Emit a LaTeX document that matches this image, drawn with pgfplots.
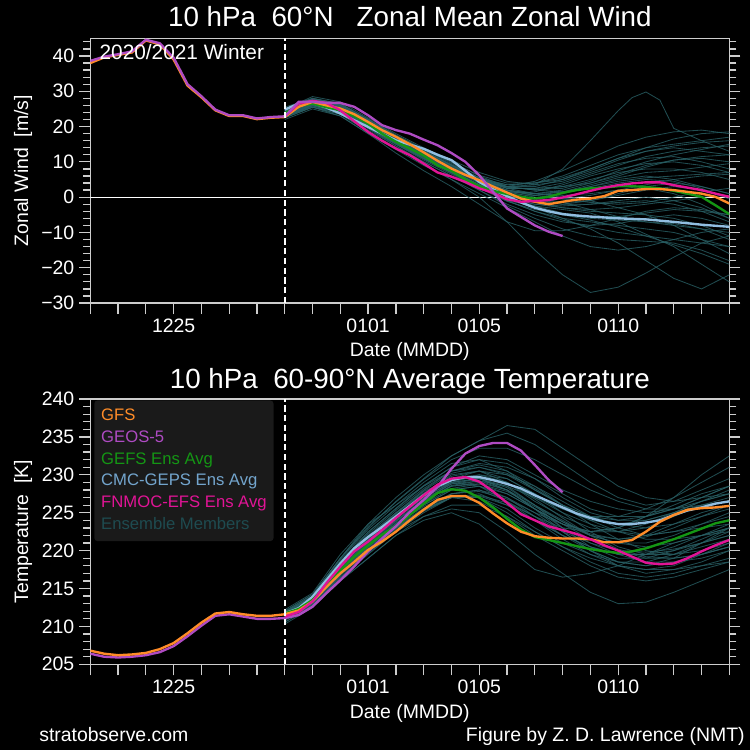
\documentclass[border=0pt]{standalone}
\usepackage{fontspec}
\setmainfont{Liberation Sans}
\usepackage{pgfplots}
\pgfplotsset{compat=1.18}
\definecolor{axgray}{RGB}{205,205,205}
\definecolor{gfs}{RGB}{255,140,40}
\definecolor{geos}{RGB}{175,75,195}
\definecolor{gefs}{RGB}{20,150,20}
\definecolor{cmc}{RGB}{145,190,225}
\definecolor{cmcleg}{RGB}{115,165,205}
\definecolor{fnmoc}{RGB}{225,20,150}
\definecolor{memc}{RGB}{40,95,100}
\definecolor{memleg}{RGB}{30,75,80}
\definecolor{leg}{RGB}{26,26,26}
\pgfplotsset{
 chart/.style={
  scale only axis, anchor=south west, width=460.1pt,
  xmin=0, xmax=23,
  axis line style={draw=axgray, line width=0.9pt},
  every tick/.style={draw=axgray, line width=0.9pt},
  tick align=outside,
  major tick length=8pt, minor tick length=5pt,
  xtick={0,...,23}, xticklabels={},
  extra x ticks={3,10,14,19}, extra x tick labels={1225,0101,0105,0110},
  xtick pos=left, ytick pos=both, yticklabel pos=left,
  ticklabel style={font=\fontsize{14}{16}\selectfont, text=white},
  every axis y label/.style={at={(axis description cs:-0.105,0.5)}, rotate=90, anchor=center, font=\fontsize{14}{16}\selectfont, text=white},
  every axis x label/.style={at={(axis description cs:0.5,-0.2025)}, anchor=base, font=\fontsize{14}{16}\selectfont, text=white},
  xlabel={Date (MMDD)},
 },
 mem/.style={color=memc, line width=0.6pt, opacity=0.8, forget plot},
 main/.style={line width=1.7pt, forget plot},
}
\begin{document}
\begin{tikzpicture}
\fill[black] (0,0) rectangle (540pt,540pt);
% ---------------- top panel: zonal wind ----------------
\begin{axis}[chart, at={(65pt,321.8pt)}, height=190.6pt,
  ymin=-30, ymax=45,
  ytick={-30,-20,-10,0,10,20,30,40},
  yticklabels={−30,−20,−10,0,10,20,30,40},
  minor ytick={-28,-26,...,44},
  ylabel={Zonal Wind\ \ [m/s]}]
\addplot[white, line width=0.8pt, forget plot] coordinates {(0,0) (23,0)};
% ensemble members
\addplot[mem] coordinates {(7,24.0)(8,27.5)(9,26.0)(10,21.5)(11,17.0)(12,13.0)(13,9.0)(14,5.0)(15,2.0)(16,0.5)(17,1.0)(18,3.0)(19,5.0)(20,6.0)(21,5.0)(22,3.0)(23,1.0)};
\addplot[mem] coordinates {(7,23.0)(8,26.0)(9,24.0)(10,19.5)(11,15.0)(12,11.0)(13,7.0)(14,3.0)(15,-1.0)(16,-4.0)(17,-6.0)(18,-7.0)(19,-8.0)(20,-9.0)(21,-10.0)(22,-12.0)(23,-14.0)};
\addplot[mem] coordinates {(7,25.0)(8,28.5)(9,27.0)(10,22.5)(11,18.0)(12,14.0)(13,10.5)(14,7.0)(15,4.5)(16,3.5)(17,4.5)(18,7.0)(19,9.5)(20,11.0)(21,11.5)(22,10.0)(23,8.0)};
\addplot[mem] coordinates {(7,22.5)(8,25.5)(9,23.5)(10,19.0)(11,14.5)(12,10.0)(13,6.0)(14,2.0)(15,-2.0)(16,-5.0)(17,-7.0)(18,-8.0)(19,-7.5)(20,-6.0)(21,-5.0)(22,-6.0)(23,-8.0)};
\addplot[mem] coordinates {(7,24.5)(8,27.0)(9,25.5)(10,21.0)(11,16.5)(12,12.5)(13,8.5)(14,4.0)(15,0.0)(16,-2.0)(17,-2.5)(18,-2.0)(19,-1.0)(20,0.0)(21,-1.0)(22,-3.0)(23,-6.0)};
\addplot[mem] coordinates {(7,23.5)(8,26.5)(9,25.0)(10,20.5)(11,16.0)(12,12.0)(13,8.0)(14,5.0)(15,3.0)(16,3.0)(17,5.0)(18,8.0)(19,11.0)(20,13.0)(21,14.0)(22,13.0)(23,12.0)};
\addplot[mem] coordinates {(7,22.0)(8,25.0)(9,23.0)(10,18.0)(11,13.5)(12,9.0)(13,5.0)(14,1.0)(15,-3.0)(16,-7.0)(17,-11.0)(18,-14.0)(19,-15.0)(20,-14.0)(21,-12.0)(22,-10.0)(23,-9.0)};
\addplot[mem] coordinates {(7,24.0)(8,27.0)(9,26.0)(10,21.0)(11,16.0)(12,12.0)(13,8.0)(14,4.5)(15,2.0)(16,1.0)(17,0.0)(18,-1.0)(19,-3.0)(20,-5.0)(21,-8.0)(22,-12.0)(23,-16.0)};
\addplot[mem] coordinates {(7,25.5)(8,28.0)(9,26.5)(10,22.0)(11,17.5)(12,13.5)(13,10.0)(14,6.0)(15,3.0)(16,2.0)(17,3.0)(18,5.0)(19,7.0)(20,8.0)(21,8.0)(22,7.0)(23,5.0)};
\addplot[mem] coordinates {(7,23.0)(8,26.0)(9,24.5)(10,20.0)(11,15.0)(12,10.5)(13,6.5)(14,2.5)(15,-0.5)(16,-2.0)(17,-3.0)(18,-3.5)(19,-3.0)(20,-2.0)(21,-1.0)(22,0.0)(23,0.5)};
\addplot[mem] coordinates {(7,24.5)(8,27.5)(9,26.0)(10,22.0)(11,17.0)(12,13.0)(13,9.0)(14,5.5)(15,3.5)(16,4.0)(17,6.0)(18,9.0)(19,12.0)(20,14.0)(21,15.0)(22,16.0)(23,17.0)};
\addplot[mem] coordinates {(7,22.5)(8,25.5)(9,24.0)(10,19.5)(11,15.5)(12,11.0)(13,7.0)(14,3.0)(15,-1.0)(16,-4.0)(17,-6.5)(18,-8.5)(19,-10.0)(20,-11.0)(21,-12.0)(22,-13.0)(23,-14.0)};
\addplot[mem] coordinates {(7,24.0)(8,27.0)(9,25.0)(10,20.5)(11,16.0)(12,11.5)(13,7.5)(14,4.5)(15,3.0)(16,3.5)(17,8.0)(18,16.0)(19,24.5)(19.5,28.2)(20,29.8)(20.5,27.5)(21,19.5)(22,16.0)(23,13.0)};
\addplot[mem] coordinates {(7,22.5)(8,25.5)(9,23.5)(10,18.5)(11,14.0)(12,9.5)(13,5.0)(14,0.0)(15,-7.0)(16,-15.0)(17,-22.0)(18,-27.0)(19,-25.5)(20,-21.5)(21,-17.0)(22,-13.0)(23,-11.0)};
\addplot[mem] coordinates {(7,23.5)(8,26.0)(9,24.5)(10,20.0)(11,15.5)(12,11.5)(13,7.5)(14,3.5)(15,0.0)(16,-3.0)(17,-6.0)(18,-9.0)(19,-13.0)(20,-18.0)(21,-23.0)(22,-26.0)(23,-22.0)};
\addplot[mem] coordinates {(7,24.0)(8,26.5)(9,25.0)(10,20.0)(11,15.5)(12,11.5)(13,7.0)(14,3.0)(15,-1.0)(16,-2.5)(17,-3.5)(18,-4.5)(19,-7.0)(20,-10.5)(21,-14.0)(22,-19.0)(23,-24.0)};
\addplot[mem] coordinates {(7,24.5)(8,27.0)(9,25.5)(10,21.0)(11,16.5)(12,12.5)(13,8.5)(14,5.0)(15,3.5)(16,4.0)(17,5.5)(18,8.0)(19,11.0)(20,14.0)(21,16.5)(22,18.0)(23,18.5)};
\addplot[mem] coordinates {(7,23.5)(8,26.5)(9,25.0)(10,20.5)(11,15.5)(12,11.5)(13,7.5)(14,3.5)(15,0.5)(16,-1.0)(17,-1.5)(18,-1.0)(19,0.5)(20,2.0)(21,3.0)(22,2.0)(23,0.0)};
\addplot[mem] coordinates {(7,24.0)(8,27.0)(9,25.5)(10,21.0)(11,16.5)(12,12.5)(13,8.5)(14,4.5)(15,1.5)(16,0.0)(17,-1.5)(18,-3.5)(19,-5.5)(20,-7.0)(21,-8.0)(22,-9.0)(23,-10.0)};
\addplot[mem] coordinates {(7,23.0)(8,26.0)(9,24.0)(10,19.5)(11,15.0)(12,11.0)(13,7.0)(14,3.5)(15,1.0)(16,1.5)(17,3.5)(18,6.0)(19,8.0)(20,9.5)(21,10.0)(22,9.0)(23,7.0)};
\addplot[mem] coordinates {(7,25.0)(8,28.0)(9,26.5)(10,22.0)(11,17.5)(12,13.5)(13,9.5)(14,5.5)(15,2.5)(16,1.0)(17,0.5)(18,1.0)(19,2.0)(20,2.5)(21,1.0)(22,-2.0)(23,-6.0)};
\addplot[mem] coordinates {(7,22.8)(8,25.8)(9,24.0)(10,19.5)(11,14.5)(12,10.0)(13,6.0)(14,2.0)(15,-2.5)(16,-6.0)(17,-9.0)(18,-11.0)(19,-12.0)(20,-12.5)(21,-13.0)(22,-15.0)(23,-18.0)};
\addplot[mem] coordinates {(7,24.2)(8,27.2)(9,25.8)(10,21.5)(11,17.0)(12,13.0)(13,9.0)(14,5.0)(15,2.5)(16,2.5)(17,4.0)(18,6.5)(19,9.0)(20,11.5)(21,13.0)(22,14.0)(23,14.5)};
\addplot[mem] coordinates {(7,23.8)(8,26.8)(9,25.2)(10,20.8)(11,16.2)(12,12.2)(13,8.2)(14,4.2)(15,1.0)(16,-1.0)(17,-2.0)(18,-2.0)(19,-1.5)(20,-1.0)(21,-2.0)(22,-4.0)(23,-7.0)};
\addplot[mem] coordinates {(7,23.2)(8,26.2)(9,24.5)(10,20.0)(11,15.5)(12,11.0)(13,7.0)(14,3.0)(15,0.0)(16,-2.5)(17,-4.5)(18,-5.5)(19,-5.5)(20,-4.5)(21,-3.5)(22,-4.0)(23,-5.0)};
\addplot[mem] coordinates {(7,24.8)(8,27.8)(9,26.2)(10,21.8)(11,17.2)(12,13.2)(13,9.2)(14,5.5)(15,3.0)(16,2.0)(17,1.5)(18,2.5)(19,4.0)(20,5.0)(21,4.5)(22,2.5)(23,-0.5)};
\addplot[mem] coordinates {(7,23.6)(8,26.4)(9,24.8)(10,20.2)(11,15.6)(12,11.6)(13,7.6)(14,3.6)(15,0.5)(16,-1.5)(17,-3.0)(18,-4.0)(19,-4.5)(20,-5.0)(21,-6.0)(22,-8.0)(23,-11.0)};
\addplot[mem] coordinates {(7,24.4)(8,27.4)(9,25.6)(10,21.2)(11,16.8)(12,12.8)(13,8.8)(14,4.8)(15,2.0)(16,1.0)(17,1.5)(18,3.0)(19,4.5)(20,5.5)(21,6.0)(22,6.5)(23,7.0)};
\addplot[mem] coordinates {(7,23.4)(8,26.2)(9,24.6)(10,20.4)(11,15.8)(12,11.8)(13,7.8)(14,3.2)(15,-0.5)(16,-3.0)(17,-5.0)(18,-6.0)(19,-6.5)(20,-7.0)(21,-7.5)(22,-9.0)(23,-12.0)};
\addplot[mem] coordinates {(7,24.6)(8,27.6)(9,26.0)(10,21.6)(11,16.6)(12,12.6)(13,8.6)(14,4.8)(15,2.5)(16,2.5)(17,3.0)(18,4.0)(19,6.0)(20,8.5)(21,10.5)(22,11.5)(23,12.0)};
\addplot[mem] coordinates {(7,23.0)(8,25.5)(9,23.0)(10,18.0)(11,12.5)(12,7.5)(13,3.0)(14,-2.0)(15,-7.0)(16,-9.5)(17,-9.5)(18,-8.0)(19,-6.0)(20,-4.0)(21,-3.0)(22,-3.5)(23,-5.0)};
\addplot[mem] coordinates {(7,24.2)(8,27.0)(9,25.4)(10,21.2)(11,16.5)(12,12.0)(13,8.0)(14,4.5)(15,3.0)(16,4.5)(17,7.5)(18,11.0)(19,14.5)(20,17.0)(21,18.5)(22,19.0)(23,18.0)};
\addplot[mem] coordinates {(7,23.8)(8,26.6)(9,25.0)(10,20.6)(11,16.0)(12,11.8)(13,7.8)(14,4.0)(15,1.5)(16,1.0)(17,2.0)(18,4.0)(19,6.5)(20,9.0)(21,10.5)(22,11.0)(23,10.0)};
\addplot[mem] coordinates {(7,24.3)(8,27.2)(9,25.6)(10,21.0)(11,16.4)(12,12.3)(13,8.3)(14,4.3)(15,1.0)(16,-0.5)(17,-0.5)(18,0.5)(19,2.0)(20,3.5)(21,5.0)(22,6.0)(23,6.5)};
\addplot[mem] coordinates {(7,23.1)(8,25.9)(9,24.2)(10,19.8)(11,15.3)(12,11.2)(13,7.2)(14,3.3)(15,0.2)(16,-1.5)(17,-2.0)(18,-1.0)(19,1.0)(20,3.0)(21,4.0)(22,3.0)(23,1.0)};
\addplot[mem] coordinates {(7,24.7)(8,27.5)(9,26.1)(10,21.9)(11,17.3)(12,13.1)(13,9.1)(14,5.2)(15,2.8)(16,2.2)(17,2.5)(18,4.5)(19,7.5)(20,10.0)(21,12.0)(22,13.5)(23,15.0)};
\addplot[mem] coordinates {(7,23.3)(8,26.1)(9,24.4)(10,19.7)(11,15.2)(12,10.8)(13,6.8)(14,2.6)(15,-1.2)(16,-3.5)(17,-5.0)(18,-6.5)(19,-8.5)(20,-11.0)(21,-13.5)(22,-16.0)(23,-19.0)};
\addplot[mem] coordinates {(7,24.1)(8,26.9)(9,25.3)(10,20.9)(11,16.3)(12,12.1)(13,8.1)(14,4.4)(15,1.8)(16,0.5)(17,-0.5)(18,-1.5)(19,-2.0)(20,-1.5)(21,0.0)(22,1.5)(23,2.5)};
\addplot[mem] coordinates {(7,23.7)(8,26.7)(9,25.0)(10,20.3)(11,15.7)(12,11.5)(13,7.4)(14,3.4)(15,0.8)(16,0.5)(17,1.5)(18,3.5)(19,5.5)(20,7.0)(21,7.5)(22,8.5)(23,9.5)};
\addplot[mem] coordinates {(7,24.9)(8,27.9)(9,26.4)(10,22.2)(11,17.6)(12,13.6)(13,9.8)(14,6.2)(15,4.0)(16,4.0)(17,5.0)(18,7.5)(19,10.5)(20,13.0)(21,14.5)(22,15.5)(23,16.0)};
% CMC-GEPS
\addplot[main, cmc] coordinates {(7,24.8)(7.5,26.5)(8,26.7)(8.5,25.4)(9,23.7)(9.5,21.8)(10,19.9)(10.5,18.0)(11,16.1)(11.5,14.9)(12,13.7)(12.5,12.0)(13,10.5)(13.5,7.5)(14,4.3)(14.5,2.2)(15,0.3)(15.5,-1.5)(16,-3.0)(16.5,-4.0)(17,-4.8)(17.5,-5.2)(18,-5.5)(19,-6.0)(20,-6.3)(21,-7.0)(22,-7.8)(23,-8.4)};
% GEFS
\addplot[main, gefs] coordinates {(7,23.8)(7.5,25.8)(8,26.5)(8.5,25.5)(9,24.6)(9.5,23.0)(10,20.8)(10.5,18.0)(11,15.7)(11.5,13.8)(12,11.8)(12.5,9.0)(13,7.5)(13.5,5.0)(14,3.1)(14.5,1.8)(15,0.9)(15.5,0.1)(16,-0.4)(16.5,0.1)(17,1.2)(17.5,2.0)(18,2.5)(18.5,2.7)(19,3.1)(19.5,3.1)(20,2.9)(20.5,2.5)(21,1.8)(21.5,1.0)(22,0.1)(22.5,-2.3)(23,-4.8)};
% GFS
\addplot[main, gfs] coordinates {(0,38.0)(0.5,39.6)(1,40.3)(1.5,41.0)(2,44.4)(2.5,43.3)(3,39.0)(3.5,31.6)(4,28.3)(4.5,24.6)(5,23.0)(5.5,23.0)(6,22.1)(6.5,22.5)(7,22.7)(7.5,25.6)(8,27.0)(8.5,26.0)(9,25.1)(9.5,23.5)(10,21.3)(10.5,19.0)(11,17.1)(11.5,15.0)(12,12.7)(12.5,10.3)(13,8.1)(13.5,6.3)(14,4.8)(14.5,3.0)(15,1.3)(15.5,-0.4)(16,-1.3)(16.5,-2.0)(17,-1.3)(17.5,-0.7)(18,-0.4)(18.5,0.3)(19,1.8)(19.5,2.0)(20,2.3)(20.5,2.3)(21,2.0)(21.5,1.5)(22,1.0)(22.5,0.1)(23,-1.8)};
% FNMOC
\addplot[main, fnmoc] coordinates {(7,22.9)(7.5,26.5)(8,27.3)(8.5,26.7)(9,24.6)(9.5,21.5)(10,18.5)(10.5,16.0)(11,13.8)(11.5,11.9)(12,9.5)(12.5,7.0)(13,5.8)(13.5,4.3)(14,2.5)(14.5,1.2)(15,-0.6)(15.5,-1.3)(16,-1.1)(16.5,-0.8)(17,-0.1)(17.5,0.8)(18,1.8)(18.5,2.7)(19,3.4)(19.5,3.9)(20,4.2)(20.5,4.2)(21,3.4)(21.5,2.7)(22,2.0)(22.5,1.0)(23,0.1)};
% GEOS-5
\addplot[main, geos] coordinates {(0,38.6)(0.5,39.8)(1,40.5)(1.5,41.3)(2,44.6)(2.5,43.6)(3,39.5)(3.5,32.0)(4,28.6)(4.5,24.8)(5,23.2)(5.5,23.2)(6,22.3)(6.5,22.7)(7,22.9)(7.5,27.0)(8,27.0)(8.5,26.7)(9,26.7)(9.5,25.6)(10,23.2)(10.5,20.4)(11,19.0)(11.5,18.0)(12,16.3)(12.5,14.7)(13,12.5)(13.5,10.0)(14,6.2)(14.5,1.5)(15,-3.2)(15.5,-5.6)(16,-8.0)(16.5,-9.8)(17,-11.0)};
\addplot[white, line width=1.2pt, dash pattern=on 4.5pt off 2.5pt, forget plot] coordinates {(7,-30) (7,45)};
\end{axis}
% ---------------- bottom panel: temperature ----------------
\begin{axis}[chart, at={(65pt,61.7pt)}, height=191pt,
  ymin=205, ymax=240,
  ytick={205,210,...,240},
  yticklabels={205,210,215,220,225,230,235,240},
  minor ytick={206,...,239},
  ylabel={Temperature\ \ [K]},
  legend style={at={(axis description cs:0.0058,0.996)}, anchor=north west, fill=leg, draw=none, rounded corners=2.5pt, font=\fontsize{12}{14}\selectfont, inner xsep=5pt, inner ysep=6pt, row sep=4.2pt, nodes={inner sep=0pt, text height=8.8pt, text depth=2.6pt}},
  legend cell align=left]
\addplot[mem] coordinates {(7,211.8)(8,213.8)(9,218.5)(10,222.5)(11,225.5)(12,228.5)(13,231.0)(14,232.5)(15,232.0)(16,230.0)(17,228.0)(18,226.5)(19,225.5)(20,225.0)(21,225.5)(22,226.5)(23,227.5)};
\addplot[mem] coordinates {(7,211.2)(8,212.8)(9,216.5)(10,219.5)(11,222.5)(12,225.0)(13,227.0)(14,227.5)(15,226.0)(16,224.0)(17,222.0)(18,220.5)(19,219.5)(20,219.5)(21,220.0)(22,221.0)(23,222.0)};
\addplot[mem] coordinates {(7,212.0)(8,214.2)(9,219.0)(10,223.0)(11,226.5)(12,229.5)(13,232.5)(14,234.5)(15,235.5)(16,234.0)(17,231.5)(18,229.0)(19,227.0)(20,226.0)(21,226.5)(22,228.0)(23,229.5)};
\addplot[mem] coordinates {(7,210.6)(8,212.5)(9,216.0)(10,219.0)(11,222.0)(12,224.5)(13,226.0)(14,226.0)(15,224.5)(16,222.5)(17,220.5)(18,218.5)(19,217.0)(20,216.5)(21,217.0)(22,218.0)(23,219.0)};
\addplot[mem] coordinates {(7,211.5)(8,213.5)(9,218.0)(10,221.5)(11,224.5)(12,227.5)(13,230.0)(14,230.5)(15,229.0)(16,226.5)(17,224.5)(18,223.0)(19,222.5)(20,223.0)(21,224.5)(22,226.0)(23,227.0)};
\addplot[mem] coordinates {(7,211.6)(8,213.2)(9,217.0)(10,220.5)(11,223.5)(12,226.5)(13,229.0)(14,230.0)(15,229.5)(16,227.5)(17,225.0)(18,222.5)(19,220.5)(20,219.5)(21,219.5)(22,220.5)(23,221.5)};
\addplot[mem] coordinates {(7,210.8)(8,212.6)(9,216.8)(10,220.0)(11,223.0)(12,225.5)(13,227.5)(14,228.0)(15,226.5)(16,224.0)(17,221.5)(18,219.5)(19,218.0)(20,217.5)(21,218.0)(22,219.5)(23,221.0)};
\addplot[mem] coordinates {(7,212.2)(8,214.4)(9,219.5)(10,223.5)(11,226.0)(12,228.5)(13,230.5)(14,231.0)(15,230.0)(16,228.0)(17,226.0)(18,224.5)(19,224.0)(20,224.5)(21,225.5)(22,227.0)(23,228.5)};
\addplot[mem] coordinates {(7,211.4)(8,213.0)(9,217.2)(10,220.5)(11,223.5)(12,226.0)(13,228.0)(14,228.5)(15,227.0)(16,224.5)(17,222.0)(18,220.0)(19,218.5)(20,218.5)(21,219.5)(22,221.0)(23,222.5)};
\addplot[mem] coordinates {(7,211.7)(8,213.6)(9,218.2)(10,222.0)(11,225.0)(12,227.5)(13,229.0)(14,228.5)(15,226.5)(16,224.5)(17,223.0)(18,222.5)(19,223.0)(20,224.5)(21,226.0)(22,227.5)(23,228.5)};
\addplot[mem] coordinates {(7,211.3)(8,213.1)(9,217.0)(10,220.0)(11,223.0)(12,225.5)(13,227.0)(14,226.5)(15,224.5)(16,222.0)(17,220.0)(18,218.0)(19,216.5)(20,216.0)(21,216.5)(22,217.5)(23,218.5)};
\addplot[mem] coordinates {(7,211.9)(8,213.9)(9,218.8)(10,222.8)(11,226.0)(12,229.0)(13,231.5)(14,232.0)(15,230.5)(16,228.0)(17,226.0)(18,224.5)(19,223.5)(20,223.0)(21,223.5)(22,224.5)(23,225.5)};
\addplot[mem] coordinates {(7,211.5)(8,213.4)(9,217.6)(10,221.0)(11,224.0)(12,226.5)(13,228.5)(14,229.0)(15,228.0)(16,226.0)(17,224.0)(18,222.0)(19,221.0)(20,221.0)(21,222.0)(22,223.5)(23,225.0)};
\addplot[mem] coordinates {(7,210.9)(8,212.7)(9,216.5)(10,219.8)(11,222.8)(12,225.5)(13,227.5)(14,228.0)(15,227.0)(16,225.0)(17,222.5)(18,220.0)(19,218.0)(20,217.0)(21,217.5)(22,218.5)(23,220.0)};
\addplot[mem] coordinates {(7,211.6)(8,213.5)(9,217.8)(10,221.2)(11,224.2)(12,227.0)(13,229.5)(14,230.5)(15,230.0)(16,228.5)(17,226.5)(18,224.5)(19,223.0)(20,222.0)(21,222.5)(22,223.5)(23,224.5)};
\addplot[mem] coordinates {(7,211.2)(8,213.0)(9,217.4)(10,220.8)(11,223.5)(12,225.8)(13,227.5)(14,227.8)(15,226.8)(16,225.0)(17,223.5)(18,222.5)(19,222.5)(20,223.5)(21,225.0)(22,226.5)(23,227.5)};
\addplot[mem] coordinates {(7,211.8)(8,213.7)(9,218.0)(10,221.8)(11,225.0)(12,228.0)(13,230.5)(14,231.5)(15,231.0)(16,229.5)(17,227.5)(18,225.5)(19,224.5)(20,224.5)(21,225.5)(22,227.0)(23,228.5)};
\addplot[mem] coordinates {(7,210.5)(8,212.9)(9,216.8)(10,219.8)(11,222.5)(12,224.5)(13,225.5)(14,225.0)(15,222.5)(16,219.5)(17,217.0)(18,214.5)(19,213.0)(20,213.2)(21,214.5)(22,216.0)(23,217.5)};
\addplot[mem] coordinates {(7,211.4)(8,213.2)(9,217.5)(10,221.0)(11,224.0)(12,226.8)(13,228.8)(14,229.5)(15,228.5)(16,226.0)(17,223.0)(18,220.5)(19,219.0)(20,219.0)(21,220.0)(22,221.5)(23,223.0)};
\addplot[mem] coordinates {(7,211.7)(8,213.4)(9,217.8)(10,221.4)(11,224.6)(12,227.6)(13,229.8)(14,230.5)(15,229.5)(16,227.5)(17,225.5)(18,224.0)(19,223.5)(20,224.0)(21,225.0)(22,226.0)(23,226.5)};
\addplot[mem] coordinates {(7,211.3)(8,213.0)(9,217.0)(10,220.2)(11,223.0)(12,225.4)(13,227.0)(14,227.0)(15,225.5)(16,223.0)(17,221.0)(18,219.5)(19,218.5)(20,218.0)(21,218.5)(22,219.5)(23,220.5)};
\addplot[mem] coordinates {(7,211.9)(8,214.0)(9,218.6)(10,222.4)(11,225.6)(12,228.6)(13,231.0)(14,232.0)(15,231.5)(16,229.5)(17,227.0)(18,225.0)(19,224.0)(20,224.0)(21,225.0)(22,226.5)(23,228.0)};
\addplot[mem] coordinates {(7,211.0)(8,212.6)(9,216.4)(10,219.6)(11,222.6)(12,225.2)(13,227.0)(14,227.2)(15,226.0)(16,224.0)(17,222.0)(18,220.5)(19,219.5)(20,219.5)(21,220.5)(22,222.0)(23,223.5)};
\addplot[mem] coordinates {(7,211.6)(8,213.6)(9,218.2)(10,221.8)(11,224.8)(12,227.8)(13,229.5)(14,229.5)(15,228.0)(16,225.5)(17,223.0)(18,221.0)(19,219.5)(20,218.5)(21,218.5)(22,219.0)(23,220.0)};
\addplot[mem] coordinates {(7,211.5)(8,213.3)(9,217.4)(10,220.6)(11,223.6)(12,226.4)(13,228.6)(14,229.2)(15,228.5)(16,227.0)(17,225.5)(18,224.5)(19,224.5)(20,225.5)(21,227.0)(22,229.0)(23,231.0)};
\addplot[mem] coordinates {(7,211.2)(8,212.9)(9,217.0)(10,220.4)(11,223.4)(12,226.0)(13,228.0)(14,228.5)(15,227.5)(16,225.5)(17,223.5)(18,221.5)(19,220.0)(20,219.0)(21,219.0)(22,219.5)(23,220.5)};
\addplot[mem] coordinates {(7,212.0)(8,214.2)(9,219.0)(10,223.2)(11,226.4)(12,229.4)(13,232.0)(14,233.5)(15,233.5)(16,232.0)(17,230.0)(18,228.0)(19,226.5)(20,225.5)(21,225.5)(22,226.0)(23,226.5)};
\addplot[mem] coordinates {(7,211.4)(8,213.1)(9,217.1)(10,220.3)(11,223.2)(12,225.6)(13,227.2)(14,227.0)(15,225.0)(16,222.5)(17,220.5)(18,219.0)(19,218.0)(20,217.5)(21,217.5)(22,218.0)(23,218.5)};
\addplot[mem] coordinates {(7,211.7)(8,213.5)(9,217.9)(10,221.5)(11,224.5)(12,227.2)(13,229.2)(14,229.8)(15,229.0)(16,227.0)(17,225.0)(18,223.5)(19,222.5)(20,222.0)(21,222.5)(22,223.0)(23,223.5)};
\addplot[mem] coordinates {(7,211.3)(8,213.2)(9,217.3)(10,220.7)(11,223.8)(12,226.6)(13,228.8)(14,229.2)(15,228.0)(16,225.5)(17,222.5)(18,220.0)(19,218.5)(20,218.0)(21,219.0)(22,221.0)(23,223.0)};
\addplot[mem] coordinates {(7,211.8)(8,214.0)(9,219.0)(10,223.5)(11,227.0)(12,230.0)(13,232.5)(14,234.5)(15,236.5)(16,236.0)(17,233.5)(18,231.0)(19,228.5)(20,227.0)(21,226.5)(22,227.0)(23,227.5)};
\addplot[mem] coordinates {(7,211.6)(8,213.4)(9,217.6)(10,221.0)(11,224.2)(12,227.0)(13,229.0)(14,229.5)(15,228.0)(16,225.5)(17,223.5)(18,222.5)(19,223.0)(20,224.5)(21,227.0)(22,230.0)(23,232.5)};
\addplot[mem] coordinates {(7,210.3)(8,212.5)(9,216.0)(10,219.0)(11,222.0)(12,224.0)(13,225.0)(14,223.5)(15,220.5)(16,217.5)(17,216.5)(18,217.0)(19,218.0)(20,219.5)(21,221.0)(22,222.0)(23,223.0)};
\addplot[mem] coordinates {(7,211.5)(8,213.4)(9,217.7)(10,221.2)(11,224.3)(12,227.0)(13,229.0)(14,229.5)(15,228.3)(16,226.0)(17,223.8)(18,222.0)(19,221.0)(20,220.5)(21,221.0)(22,222.0)(23,223.0)};
\addplot[mem] coordinates {(7,211.2)(8,213.0)(9,217.1)(10,220.5)(11,223.6)(12,226.2)(13,228.2)(14,228.8)(15,227.8)(16,225.8)(17,223.8)(18,222.2)(19,221.5)(20,221.8)(21,223.0)(22,224.5)(23,226.0)};
\addplot[mem] coordinates {(7,211.7)(8,213.6)(9,218.1)(10,221.7)(11,224.9)(12,227.9)(13,230.2)(14,231.0)(15,230.2)(16,228.2)(17,226.0)(18,224.0)(19,222.5)(20,221.5)(21,221.5)(22,222.0)(23,222.5)};
\addplot[mem] coordinates {(7,211.0)(8,212.7)(9,216.7)(10,220.0)(11,222.9)(12,225.3)(13,227.0)(14,227.3)(15,226.3)(16,224.5)(17,222.5)(18,221.0)(19,220.0)(20,219.8)(21,220.2)(22,221.0)(23,222.0)};
\addplot[mem] coordinates {(7,211.6)(8,213.5)(9,218.0)(10,221.6)(11,224.6)(12,227.4)(13,229.5)(14,230.0)(15,229.0)(16,226.8)(17,224.3)(18,222.0)(19,220.2)(20,219.2)(21,219.0)(22,219.5)(23,220.5)};
\addplot[mem] coordinates {(7,211.4)(8,213.3)(9,217.5)(10,220.9)(11,223.9)(12,226.6)(13,228.5)(14,228.8)(15,227.5)(16,225.5)(17,223.5)(18,222.0)(19,221.5)(20,222.0)(21,223.5)(22,225.0)(23,226.0)};
\addplot[mem] coordinates {(7,211.8)(8,213.8)(9,218.4)(10,222.2)(11,225.3)(12,228.2)(13,230.5)(14,231.3)(15,230.5)(16,228.5)(17,226.0)(18,223.5)(19,221.5)(20,220.0)(21,219.5)(22,220.0)(23,221.0)};
% CMC-GEPS
\addplot[main, cmc] coordinates {(7,211.7)(7.5,212.4)(8,213.9)(8.5,216.1)(9,218.3)(9.5,220.3)(10,221.8)(10.5,223.1)(11,224.5)(11.5,225.9)(12,227.3)(12.5,228.5)(13,229.3)(13.5,229.7)(14,229.7)(14.5,229.3)(15,228.8)(15.5,228.2)(16,227.3)(16.5,226.5)(17,225.7)(17.5,224.9)(18,224.3)(18.5,223.8)(19,223.5)(19.5,223.5)(20,223.7)(20.5,224.0)(21,224.7)(21.5,225.3)(22,225.7)(22.5,226.2)(23,226.5)};
% GEFS
\addplot[main, gefs] coordinates {(7,211.7)(7.5,212.3)(8,213.5)(8.5,215.5)(9,217.4)(9.5,219.2)(10,220.7)(10.5,222.1)(11,223.2)(11.5,224.7)(12,226.2)(12.5,227.6)(13,228.1)(13.5,227.9)(14,227.0)(14.5,225.7)(15,224.2)(15.5,222.8)(16,221.8)(16.5,221.4)(17,221.0)(17.5,220.6)(18,220.2)(18.5,219.9)(19,219.7)(19.5,219.9)(20,220.3)(20.5,220.9)(21,221.5)(21.5,222.2)(22,222.9)(22.5,223.6)(23,224.0)};
% GEOS-5
\addplot[main, geos] coordinates {(0,206.4)(0.5,206.0)(1,205.9)(1.5,206.0)(2,206.2)(2.5,206.6)(3,207.4)(3.5,208.7)(4,210.1)(4.5,211.4)(5,211.6)(5.5,211.3)(6,211.0)(6.5,211.0)(7,211.1)(7.5,211.5)(8,212.6)(8.5,214.4)(9,216.1)(9.5,217.9)(10,219.9)(10.5,221.6)(11,223.2)(11.5,225.1)(12,226.7)(12.5,228.4)(13,230.8)(13.5,232.8)(14,233.8)(14.5,234.2)(15,234.2)(15.5,233.2)(16,231.3)(16.5,229.3)(17,227.7)};
% GFS
\addplot[main, gfs] coordinates {(0,206.8)(0.5,206.4)(1,206.2)(1.5,206.3)(2,206.5)(2.5,207.0)(3,207.8)(3.5,209.1)(4,210.5)(4.5,211.7)(5,211.9)(5.5,211.6)(6,211.4)(6.5,211.4)(7,211.6)(7.5,212.1)(8,213.3)(8.5,215.2)(9,217.0)(9.5,218.5)(10,220.1)(10.5,221.2)(11,222.5)(11.5,224.0)(12,225.4)(12.5,226.7)(13,227.2)(13.5,227.2)(14,226.3)(14.5,224.9)(15,223.6)(15.5,222.5)(16,221.9)(16.5,221.7)(17,221.6)(17.5,221.6)(18,221.5)(18.5,221.1)(19,221.1)(19.5,221.4)(20,222.5)(20.5,223.8)(21,224.7)(21.5,225.4)(22,225.6)(22.5,225.7)(23,225.9)};
% FNMOC
\addplot[main, fnmoc] coordinates {(7,211.3)(7.5,211.9)(8,213.3)(8.5,215.7)(9,217.9)(9.5,219.9)(10,221.2)(10.5,222.7)(11,224.3)(11.5,225.8)(12,227.3)(12.5,228.7)(13,229.5)(13.5,229.7)(14,229.1)(14.5,227.8)(15,226.3)(15.5,224.8)(16,224.0)(16.5,223.2)(17,222.7)(17.5,222.2)(18,221.5)(18.5,220.7)(19,220.0)(19.5,219.2)(20,218.4)(20.5,218.2)(21,218.3)(21.5,219.0)(22,219.9)(22.5,220.7)(23,221.4)};
\addplot[white, line width=1.2pt, dash pattern=on 4.5pt off 2.5pt, forget plot] coordinates {(7,205) (7,240)};
\addlegendimage{empty legend}\addlegendentry{\textcolor{gfs}{GFS}}
\addlegendimage{empty legend}\addlegendentry{\textcolor{geos}{GEOS-5}}
\addlegendimage{empty legend}\addlegendentry{\textcolor{gefs}{GEFS Ens Avg}}
\addlegendimage{empty legend}\addlegendentry{\textcolor{cmcleg}{CMC-GEPS Ens Avg}}
\addlegendimage{empty legend}\addlegendentry{\textcolor{fnmoc}{FNMOC-EFS Ens Avg}}
\addlegendimage{empty legend}\addlegendentry{\textcolor{memleg}{Ensemble Members}}
\end{axis}
% ---------------- texts ----------------
\node[anchor=base, inner sep=0pt, text=white, font=\fontsize{20}{24}\selectfont] at (295.1pt,520.8pt) {10 hPa\ \ 60°N\ \ \ Zonal Mean Zonal Wind};
\node[anchor=base, inner sep=0pt, text=white, font=\fontsize{20}{24}\selectfont] at (295.1pt,260.4pt) {10 hPa\ \ 60-90°N Average Temperature};
\node[anchor=base west, inner sep=0pt, text=white, font=\fontsize{15}{18}\selectfont] at (71.5pt,497.3pt) {2020/2021 Winter};
\node[anchor=base west, inner sep=0pt, text=white, font=\fontsize{14}{16}\selectfont] at (28.1pt,6pt) {stratobserve.com};
\node[anchor=base east, inner sep=0pt, text=white, font=\fontsize{14}{16}\selectfont] at (536.4pt,6pt) {Figure by Z. D. Lawrence (NMT)};
\pgfresetboundingbox
\path[use as bounding box] (0,0) rectangle (540pt,540pt);
\end{tikzpicture}
\end{document}
